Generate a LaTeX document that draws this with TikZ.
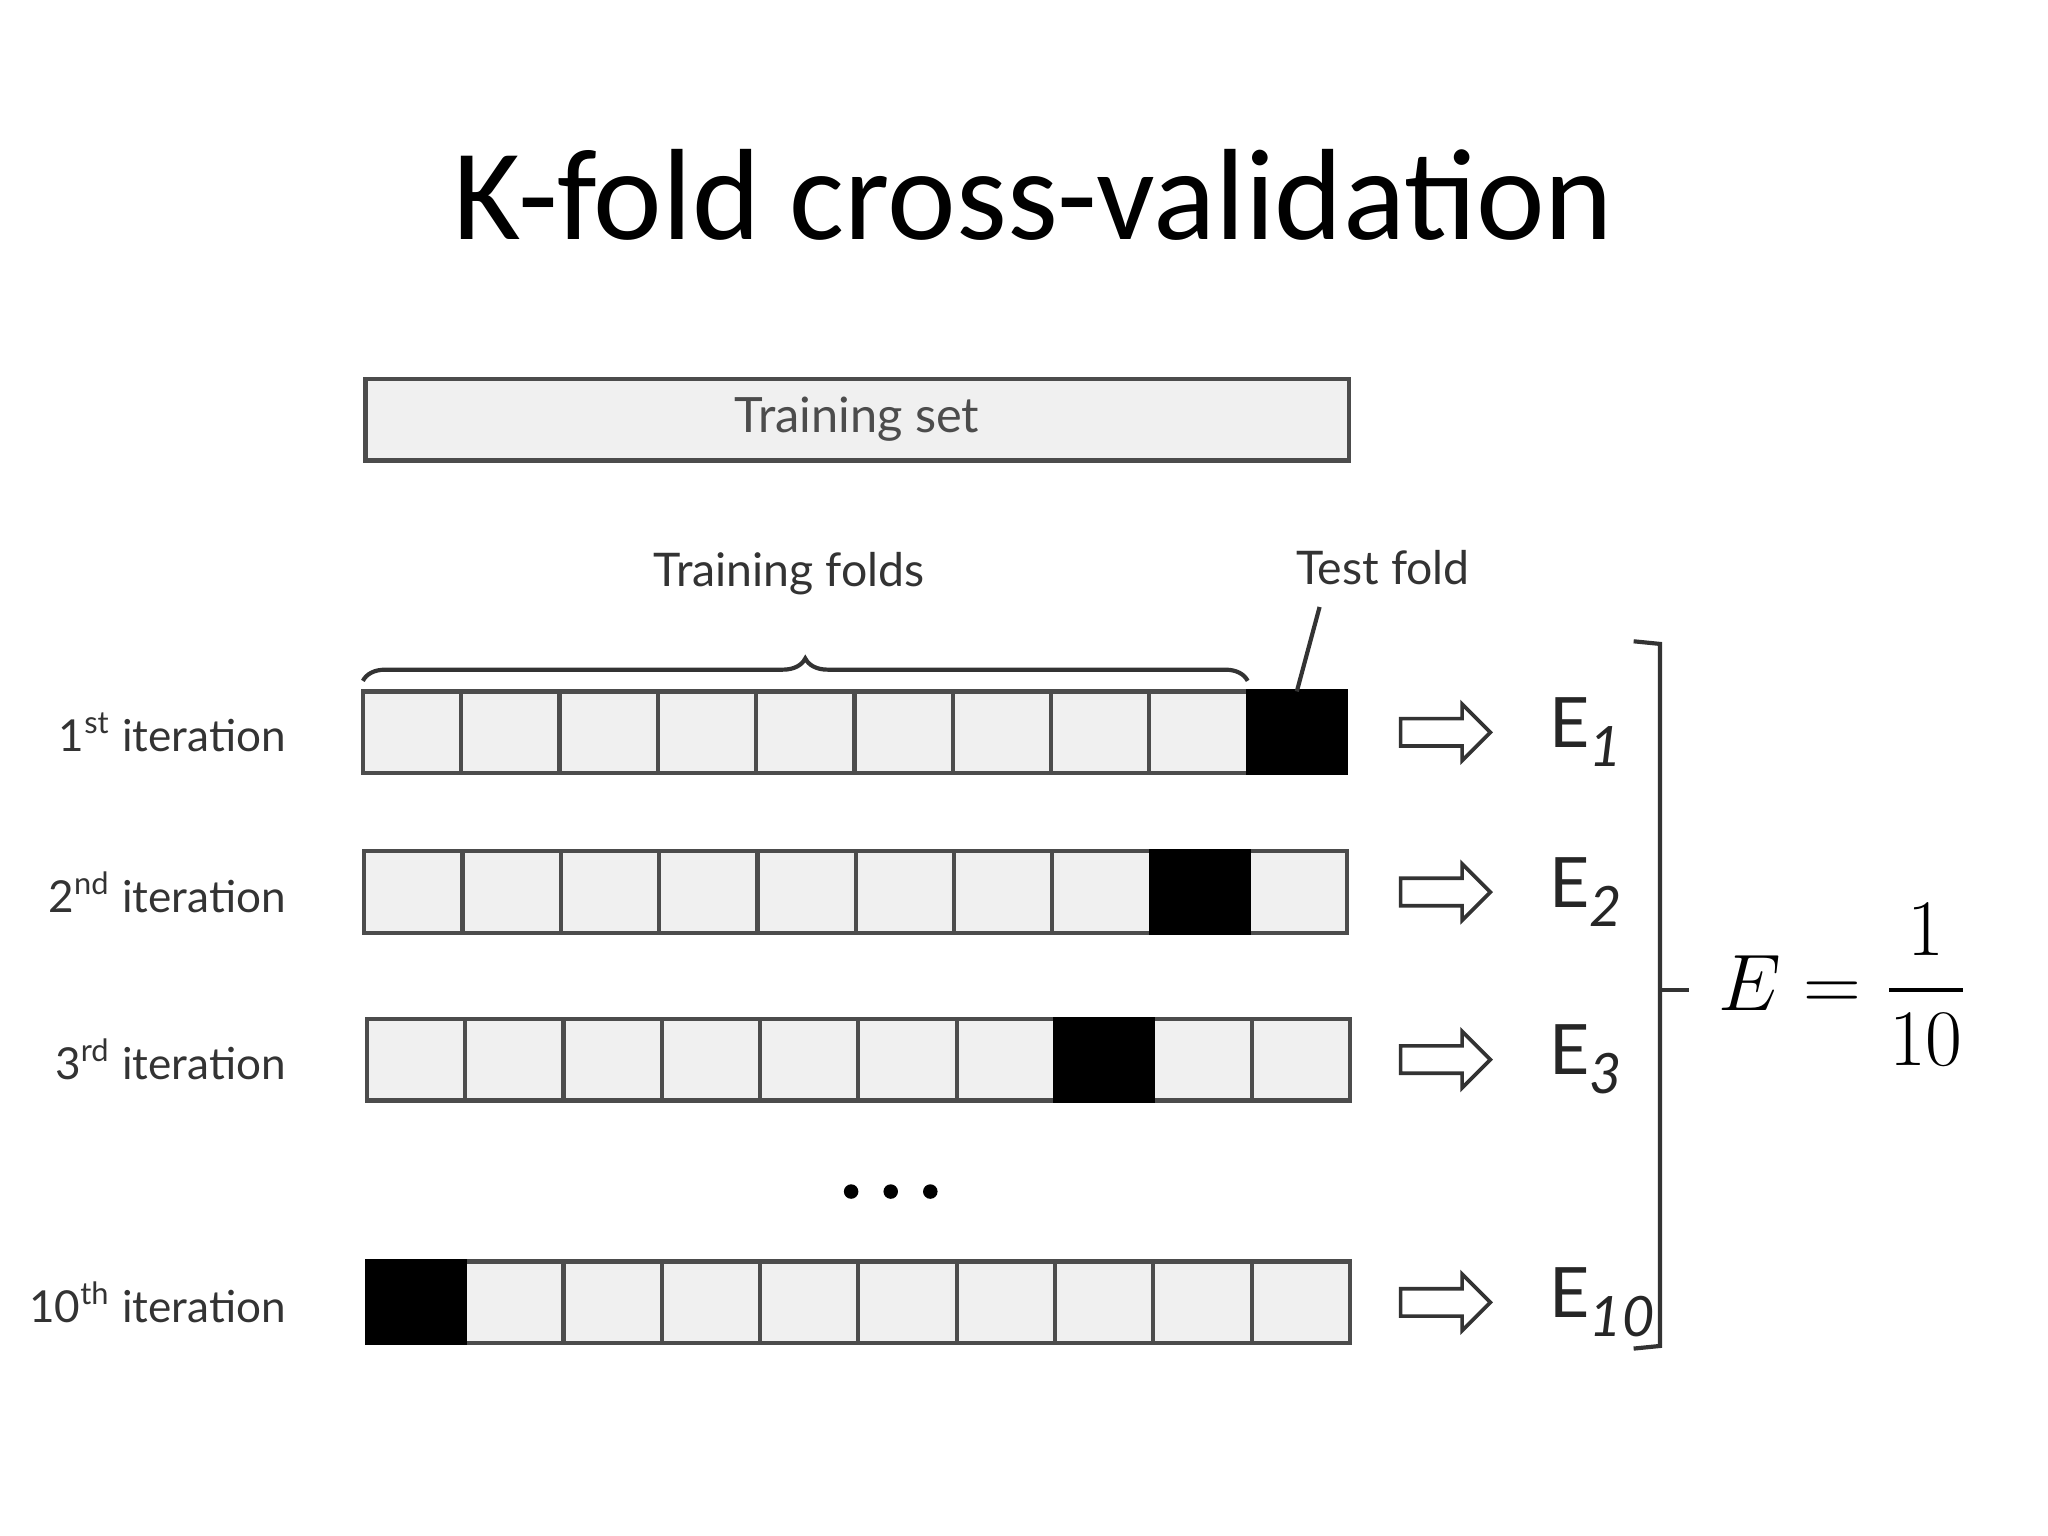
\documentclass[tikz,border=0pt]{standalone}
\usepackage{amsmath}
\usepackage{fontspec}
\setmainfont{Lato}
\newfontfamily\titlefont{Carlito}
\usetikzlibrary{shapes.arrows,decorations.pathreplacing,calc}

\begin{document}
\begin{tikzpicture}[x=1cm,y=1cm]
    \tikzset{Fold/.style =   {draw=black!70,fill=black!6,line width=0.9pt,minimum width=0.745cm,minimum height=0.62cm,inner sep=0pt,outer sep=0pt,anchor=south west}}
    \tikzset{FoldTest/.style = {Fold,fill=black,draw=black}}
    \tikzset{Fleche/.style =   {single arrow,draw=black!80,fill=white,line width=0.8pt,minimum height=0.68cm,minimum width=0.4cm,inner xsep=0pt,inner ysep=0.09cm,single arrow head extend=0.11cm,anchor=west}}
    \tikzset{Etiquette/.style = {anchor=east,text=black!80,font=\fontsize{9.5}{11}\selectfont}}

    \useasboundingbox (0,0) rectangle (15.52,11.64);

    \node[font=\titlefont\fontsize{28}{32}\selectfont] (titre) at (7.83,10.16) {K-fold cross-validation};
    \node[Fold,minimum width=7.45cm,text=black!70,font=\fontsize{10.5}{12}\selectfont] (train) at (2.77,8.15) {Training set};

    % rows of folds
    \foreach \r/\y/\x/\t/\lab in {1/5.78/2.75/10/{1\textsuperscript{st}},
                                 2/4.57/2.76/9/{2\textsuperscript{nd}},
                                 3/3.30/2.78/8/{3\textsuperscript{rd}},
                                 10/1.46/2.78/1/{10\textsuperscript{th}}} {
        \foreach \c in {1,...,10}
            \node[Fold] (r\r-\c) at ({\x+0.745*(\c-1)},\y) {};
        \node[FoldTest] (r\r-t) at ({\x+0.745*(\t-1)},\y) {};
        \node[Etiquette] (lab\r) at (2.29,\y+0.31) {\lab~iteration};
        \node[Fleche] (fl\r) at (10.6,\y+0.31) {};
        \node[anchor=west,text=black!85] (E\r) at (11.62,\y+0.31)
            {\fontsize{15}{16}\selectfont E\raisebox{-0.55ex}{\fontsize{12}{12}\selectfont\itshape\r}};
    }

    \draw[black!80,line width=0.9pt,decorate,decoration={brace,amplitude=0.17cm}]
        ($(r1-1.north west)+(0,0.08)$) -- ($(r1-9.north east)+(0,0.08)$);
    \node[text=black!80,font=\fontsize{10}{12}\selectfont] (tfolds) at (5.98,7.29) {Training folds};
    \node[text=black!80,font=\fontsize{10}{12}\selectfont] (tfold) at (10.48,7.34) {Test fold};
    \draw[black!80,line width=0.9pt] (10.0,7.04) -- (r1-10.north);

    % dots
    \foreach \d in {6.45,6.75,7.05}
        \fill (\d,2.61) circle (0.055);

    % bracket and mean
    \coordinate (acc-h) at (12.58,6.76);
    \coordinate (acc-b) at (12.58,1.44);
    \coordinate (acc-m) at (12.58,4.14);
    \draw[black!80,line width=0.9pt] ($(acc-h)+(-0.2,0.02)$) -- (acc-h) -- (acc-b) -- ++(-0.2,-0.02);
    \draw[black!80,line width=0.9pt] (acc-m) -- ++(0.22,0);
    \begin{scope}
        \clip (12.8,2) rectangle (14.9,6);
        \node[anchor=west,font=\fontsize{16}{18}\selectfont] (moy) at (12.9,4.14)
            {$E=\dfrac{1}{10}\displaystyle\sum_{i=1}^{10}E$};
    \end{scope}
\end{tikzpicture}
\end{document}
